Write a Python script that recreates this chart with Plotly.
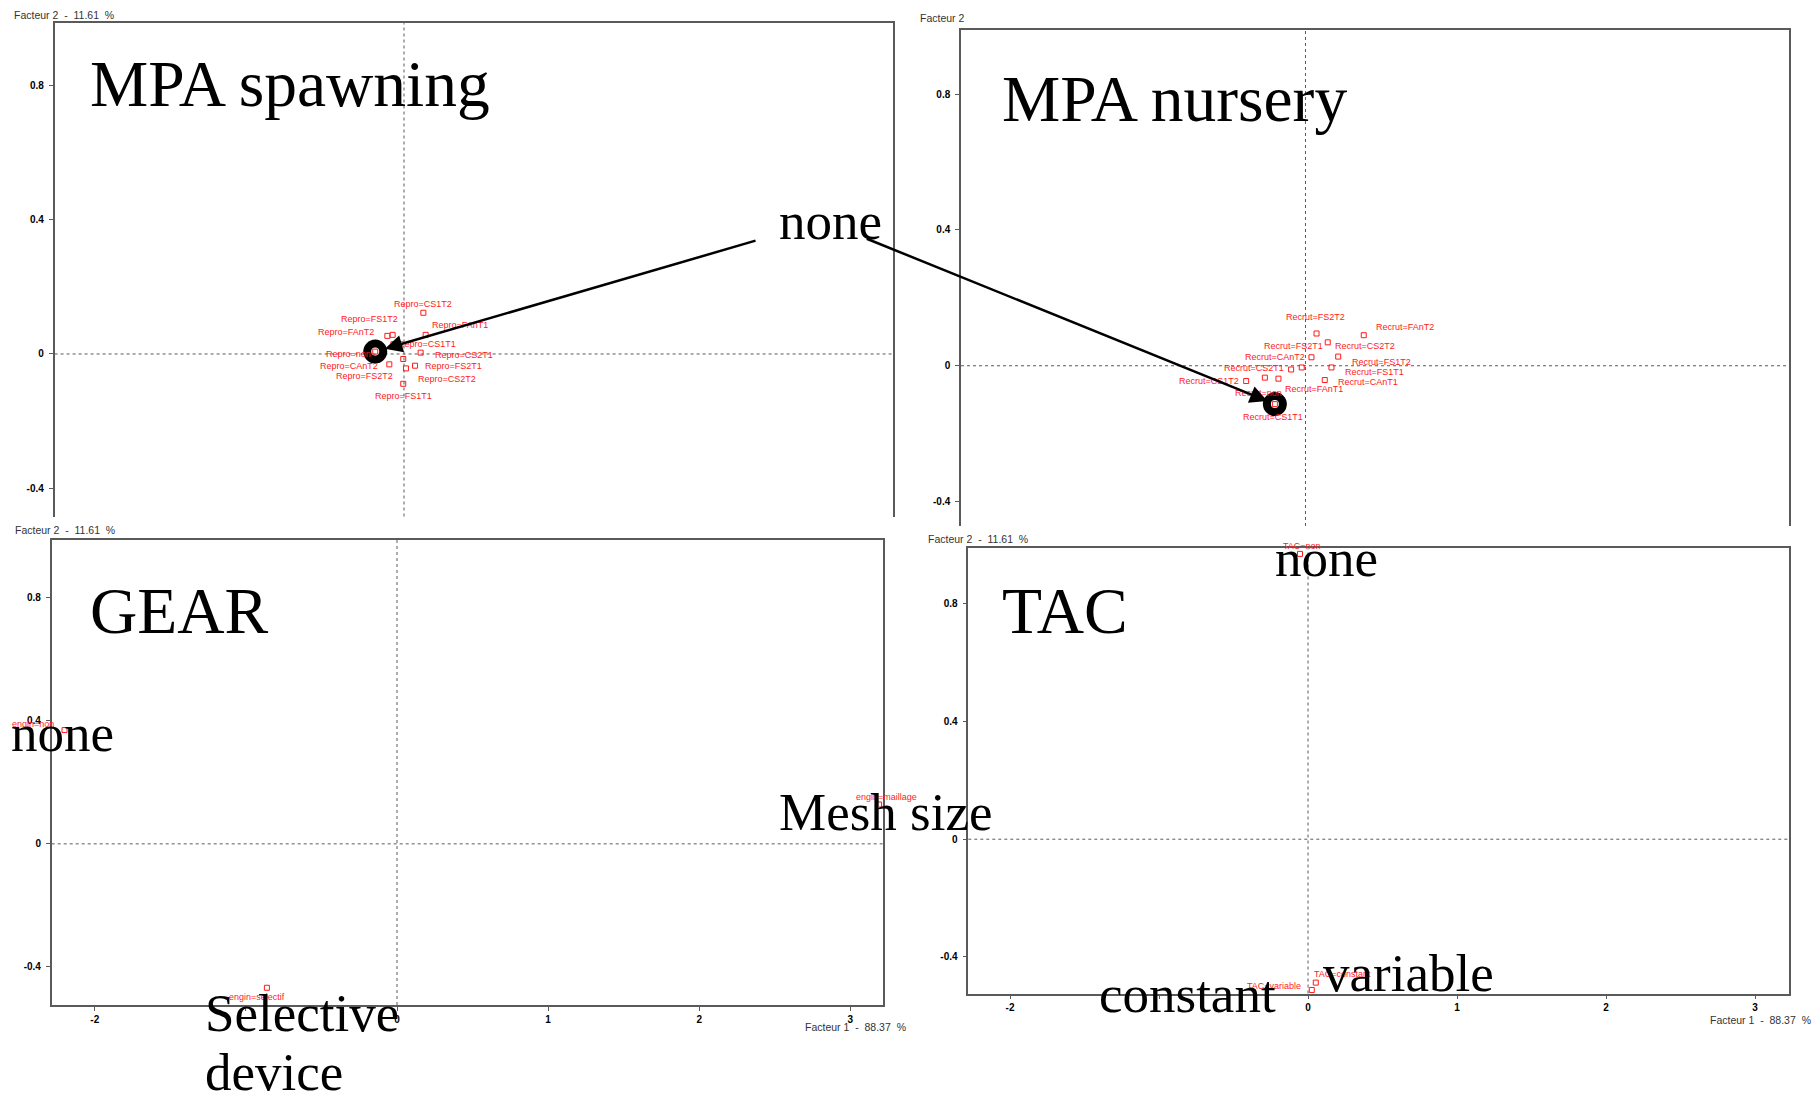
import plotly.graph_objects as go

W, H = 1820, 1098

# ---------------- data ----------------
repro_labels = ["Repro=CS1T2", "Repro=FS1T2", "Repro=FAnT2", "Repro=FAnT1", "Repro=CS1T1",
                "Repro=non", "Repro=CS2T1", "Repro=CAnT2", "Repro=FS2T1", "Repro=FS2T2",
                "Repro=CS2T2", "Repro=FS1T1"]
repro_x = [0.128, -0.075, -0.110, 0.143, -0.070, -0.190, 0.110, -0.097, 0.073, -0.005, 0.013, -0.005]
repro_y = [0.123, 0.057, 0.054, 0.057, 0.029, 0.007, 0.004, -0.031, -0.035, -0.015, -0.043, -0.089]

recrut_labels = ["Recrut=FS2T2", "Recrut=FAnT2", "Recrut=CS2T2", "Recrut=FS1T2", "Recrut=FS2T1",
                 "Recrut=CAnT2", "Recrut=CS2T1", "Recrut=FS1T1", "Recrut=CAnT1", "Recrut=CS1T2",
                 "Recrut=FAnT1", "Recrut=CS1T1", "Recrut=non"]
recrut_x = [0.074, 0.390, 0.149, 0.219, 0.040, -0.025, -0.096, 0.174, 0.129, -0.397, -0.181, -0.272, -0.205]
recrut_y = [0.095, 0.090, 0.069, 0.027, 0.025, -0.005, -0.011, -0.005, -0.042, -0.045, -0.038, -0.035, -0.113]

engin_labels = ["engin=non", "engin=selectif", "engin=maillage"]
engin_x = [-2.20, -0.861, 3.19]
engin_y = [0.37, -0.468, 0.128]

tac_labels = ["TAC=non", "TAC=constant", "TAC=variable"]
tac_x = [-0.054, 0.052, 0.025]
tac_y = [0.969, -0.487, -0.512]

x_tick_vals = [-2, -1, 0, 1, 2, 3]
x_tick_text = ["-2", "", "0", "1", "2", "3"]
y_tick_vals = [-0.4, 0, 0.4, 0.8]
y_tick_text = ["-0.4", "0", "0.4", "0.8"]

axis2_title = "Facteur 2  -  11.61  %"
axis2_title_short = "Facteur 2"
axis1_title = "Facteur 1  -  88.37  %"

panel_titles = ["MPA spawning", "MPA nursery", "GEAR", "TAC"]

# ---------------- layout helpers (pixel placement) ----------------
def PX(x):
    return x / W

def PY(y):
    return 1 - y / H

# label offsets in pixels (dx right, dy down)
repro_off = [(0, -8.7), (-22.7, -15.7), (-41.3, -3.7), (34.3, -10), (33.3, 0), (-26.7, 2.3),
             (43.3, 2.3), (-40.3, 1.3), (38.3, 0), (-38.3, 16.7), (40.7, 10.7), (0, 12)]
recrut_off = [(-1, -16.7), (41, -8.3), (37, 3.3), (43.7, 5), (-18.3, -11.7), (-27, -10),
              (-37, -1), (43, 4.3), (43, 1.7), (-36.7, -0.3), (36, 10.7), (8, 39), (-16.7, -10.7)]
engin_off = [(-31.6, -6), (-10, 9), (7, -7)]
tac_off = [(1.7, -8), (26.6, -9), (-38, -4)]

panels = [
    # (suffix, domain x px, domain y px, xrange, yrange, is_top)
    ("", (54.6, 892.6), (23.2, 516.5), [-2.309, 3.229], [-0.485, 0.987], True),
    ("2", (961.0, 1788.6), (30.0, 526.0), [-2.306, 3.234], [-0.472, 0.989], True),
    ("3", (51.7, 883.3), (540.0, 1005.0), [-2.285, 3.218], [-0.524, 0.988], False),
    ("4", (968.3, 1788.6), (548.3, 993.5), [-2.280, 3.225], [-0.524, 0.988], False),
]

LINE = "#5a5a5a"
SANS = "Liberation Sans, Arial, sans-serif"
SERIF = "Liberation Serif, Times New Roman, serif"
RED = "#ff1a1a"

fig = go.Figure()
layout = dict(
    width=W, height=H,
    margin=dict(l=0, r=0, t=0, b=0),
    paper_bgcolor="white", plot_bgcolor="white",
    showlegend=False,
)
shapes = []
annotations = []

tickfont = dict(family=SANS, size=10, color="black", weight="bold")

for suf, dx, dy, xr, yr, top in panels:
    xa = dict(domain=[PX(dx[0]), PX(dx[1])], range=xr, anchor="y" + suf,
              showgrid=False, zeroline=False, showline=True, linecolor=LINE, linewidth=1.5,
              automargin=False, fixedrange=True)
    ya = dict(domain=[PY(dy[1]), PY(dy[0])], range=yr, anchor="x" + suf,
              showgrid=False, zeroline=False, showline=True, mirror=True, linecolor=LINE, linewidth=1.5,
              tickmode="array", tickvals=y_tick_vals, ticktext=y_tick_text,
              ticks="outside", ticklen=4, tickcolor=LINE, tickfont=tickfont, ticklabelstandoff=3,
              automargin=False, fixedrange=True)
    if top:
        xa.update(side="top", showticklabels=False, ticks="")
    else:
        xa.update(mirror=True, tickmode="array", tickvals=x_tick_vals, ticktext=x_tick_text,
                  ticks="outside", ticklen=4, tickcolor=LINE, tickfont=tickfont)
    layout["xaxis" + suf] = xa
    layout["yaxis" + suf] = ya
    # dashed zero lines
    shapes.append(dict(type="line", xref="x" + suf, yref="y" + suf + " domain", x0=0, x1=0, y0=0, y1=1,
                       line=dict(color=LINE, width=1, dash="3px,3px"), layer="below"))
    shapes.append(dict(type="line", xref="x" + suf + " domain", yref="y" + suf, x0=0, x1=1, y0=0, y1=0,
                       line=dict(color=LINE, width=1, dash="3px,3px"), layer="below"))

# highlight rings around the "non" modalities of the two MPA panels
ring = dict(symbol="circle-open", size=16, color="black", line=dict(width=8, color="black"))
fig.add_trace(go.Scatter(x=[repro_x[5]], y=[repro_y[5]], xaxis="x", yaxis="y", mode="markers",
                         marker=ring, hoverinfo="skip"))
fig.add_trace(go.Scatter(x=[recrut_x[12]], y=[recrut_y[12]], xaxis="x2", yaxis="y2", mode="markers",
                         marker=ring, hoverinfo="skip"))

groups = [
    (repro_labels, repro_x, repro_y, repro_off, ""),
    (recrut_labels, recrut_x, recrut_y, recrut_off, "2"),
    (engin_labels, engin_x, engin_y, engin_off, "3"),
    (tac_labels, tac_x, tac_y, tac_off, "4"),
]
for labels, xs, ys, offs, suf in groups:
    fig.add_trace(go.Scatter(x=xs, y=ys, xaxis="x" + suf, yaxis="y" + suf, mode="markers",
                             marker=dict(symbol="square-open", size=5, color=RED, line=dict(width=1, color=RED)),
                             text=labels, hoverinfo="text", cliponaxis=False))
    for lab, x, y, (ox, oy) in zip(labels, xs, ys, offs):
        annotations.append(dict(x=x, y=y, xref="x" + suf, yref="y" + suf, text=lab, showarrow=False,
                                xshift=ox, yshift=-oy, font=dict(family=SANS, size=9, color=RED)))

# axis titles
def small_text(txt, left, cy, size=10.5):
    annotations.append(dict(x=PX(left), y=PY(cy), xref="paper", yref="paper", text=txt, showarrow=False,
                            xanchor="left", yanchor="middle", font=dict(family=SANS, size=size, color="#333333")))

small_text(axis2_title, 12.3, 15)
small_text(axis2_title_short, 918, 18.3)
small_text(axis2_title, 12.7, 530)
small_text(axis2_title, 926, 539)
for cx, cy in [(855.8, 1026.7), (1760.5, 1020)]:
    annotations.append(dict(x=PX(cx), y=PY(cy), xref="paper", yref="paper", text=axis1_title, showarrow=False,
                            xanchor="center", yanchor="middle", font=dict(family=SANS, size=10.5, color="#333333")))

# big serif overlay texts (left edge, baseline, size)
def big_text(txt, left, baseline, size):
    annotations.append(dict(x=PX(left), y=PY(baseline - 0.34 * size), xref="paper", yref="paper", text=txt,
                            showarrow=False, xanchor="left", yanchor="middle",
                            font=dict(family=SERIF, size=size, color="black")))

big_text(panel_titles[0], 88, 106, 65.5)
big_text(panel_titles[1], 1000, 121, 65.5)
big_text(panel_titles[2], 88, 633, 65.5)
big_text(panel_titles[3], 1000, 633, 65.5)
big_text("none", 776.5, 239, 53)
big_text("none", 9.3, 751, 53)
big_text("none", 1273, 576, 53)
big_text("Mesh size", 776.5, 830, 53)
big_text("constant", 1097, 1012, 53)
big_text("variable", 1321, 991, 53)
big_text("Selective", 203, 1031, 53)
big_text("device", 203, 1090, 53)

# arrows from the "none" word to the circled modalities
annotations.append(dict(x=repro_x[5], y=repro_y[5], xref="x", yref="y", ax=381.8, ay=-111.4, text="",
                        showarrow=True, arrowhead=2, arrowsize=1.4, arrowwidth=2.5, arrowcolor="black", standoff=10))
annotations.append(dict(x=recrut_x[12], y=recrut_y[12], xref="x2", yref="y2", ax=-409.6, ay=-166, text="",
                        showarrow=True, arrowhead=2, arrowsize=1.4, arrowwidth=2.5, arrowcolor="black", standoff=8))

layout["shapes"] = shapes
layout["annotations"] = annotations
fig.update_layout(**layout)
fig.write_html("out.html", config={"displayModeBar": False},
               post_script="document.body.style.margin='0px';document.body.style.padding='0px';")
